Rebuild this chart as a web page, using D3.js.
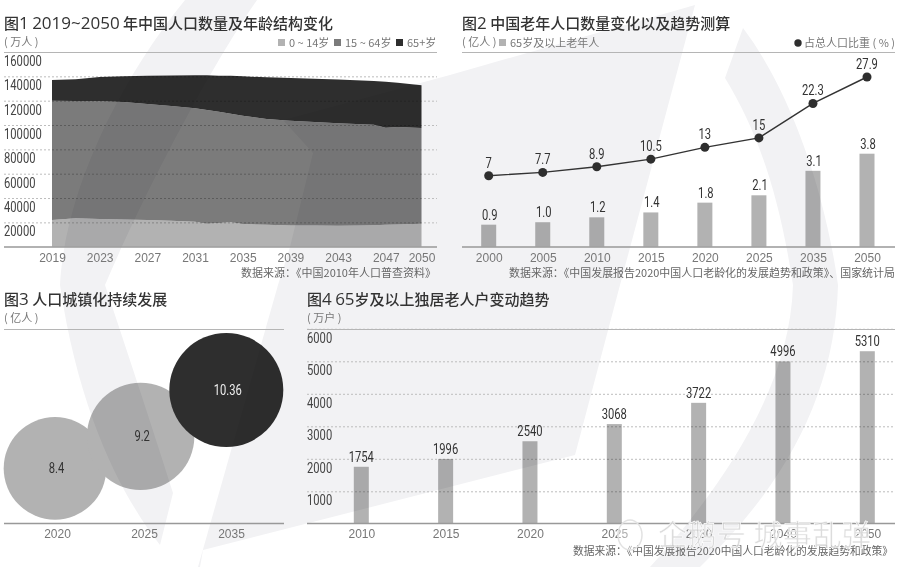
<!DOCTYPE html>
<html>
<head>
<meta charset="utf-8">
<script src="https://cdn.jsdelivr.net/npm/d3@7"></script>
<style>
html, body { margin: 0; padding: 0; background: #fff; }
svg { display: block; }
text { font-family: "Noto Sans CJK SC", "Noto Sans", sans-serif; }
.title { font-size: 15px; font-weight: 500; fill: #333; }
.title tspan { font-family: "Open Sans", sans-serif; font-size: 17px; }
.note { font-size: 11px; fill: #777; }
.source { font-size: 11px; fill: #666; }
.num { font-family: Roboto, sans-serif; font-size: 14px; fill: #333; }
.tick text { font-family: "Liberation Sans", sans-serif; font-size: 12px; fill: #777; }
.yaxis .tick text { font-family: Roboto, sans-serif; font-size: 14px; fill: #444; }
.mark { mix-blend-mode: multiply; }
</style>
</head>
<body>
<script>
// Fig 1 - population by age group
var popYears = [2019, 2021, 2023, 2025, 2027, 2029, 2031, 2032, 2033, 2034, 2035, 2037, 2039, 2041, 2043, 2045, 2046, 2047, 2048, 2050];
var pop0to14 = [21900, 23300, 22700, 22300, 21900, 21300, 20500, 18900, 19500, 20000, 18600, 18000, 17500, 17400, 17300, 17500, 17700, 18000, 18200, 18900];
var pop15to64 = [98100, 96400, 96750, 96600, 95400, 94300, 93200, 93400, 91500, 89300, 89100, 86900, 86100, 85100, 84100, 83050, 82600, 79800, 80200, 78600];
var pop65plus = [17000, 17900, 20000, 21100, 23200, 25100, 27100, 28500, 29500, 31100, 32300, 34300, 35100, 35500, 35900, 35950, 35900, 37800, 36300, 35100];
var popTicks = [2019, 2023, 2027, 2031, 2035, 2039, 2043, 2047, 2050];
var popYTicks = [20000, 40000, 60000, 80000, 100000, 120000, 140000, 160000];

// Fig 2 - elderly population and share
var elderYears = ["2000", "2005", "2010", "2015", "2020", "2025", "2035", "2050"];
var elderCount = [0.9, 1.0, 1.2, 1.4, 1.8, 2.1, 3.1, 3.8];
var elderCountLabels = ["0.9", "1.0", "1.2", "1.4", "1.8", "2.1", "3.1", "3.8"];
var elderShare = [7, 7.7, 8.9, 10.5, 13, 15, 22.3, 27.9];

// Fig 3 - urban population
var urbanYears = ["2020", "2025", "2035"];
var urbanPop = [8.4, 9.2, 10.36];

// Fig 4 - elderly living alone
var aloneYears = ["2010", "2015", "2020", "2025", "2030", "2040", "2050"];
var aloneHouseholds = [1754, 1996, 2540, 3068, 3722, 4996, 5310];
var aloneYTicks = [1000, 2000, 3000, 4000, 5000, 6000];

var svgWidth = 899;
var svgHeight = 567;
var ruleColor = "#b5b5b5";
var baseColor = "#999";
var gridColor = "#bdbdbd";
var lightGrey = "#b2b2b2";
var midGrey = "#7b7b7b";
var darkGrey = "#2e2e2e";

var svg = d3.select("body").append("svg")
  .attr("width", svgWidth)
  .attr("height", svgHeight);

// pale swooshes behind the charts
var swooshes = [
  "M185,0 L257,0 C215,60 150,180 105,285 C125,345 150,420 173,493 L160,545 C125,500 80,420 60,285 C65,190 120,80 185,0 Z",
  "M695,5 L620,285 L575,455 L203,550 L200,567 L198,567 L278,285 L290,247 L313,153 L283,120 L450,75 Z",
  "M743,28 C790,90 825,190 838,285 C835,390 790,480 700,567 L650,567 C720,490 790,390 793,285 C780,200 760,135 725,78 Z"
];
svg.selectAll("path.swoosh")
  .data(swooshes)
  .enter().append("path")
  .attr("class", "swoosh")
  .attr("d", d => d)
  .attr("fill", "#f2f2f4");

// the digits in the original are a narrow face, squeeze them to match
function squeeze(sel) {
  sel.each(function() {
    this.setAttribute("textLength", this.getComputedTextLength() * 0.8);
    this.setAttribute("lengthAdjust", "spacingAndGlyphs");
  });
}

function header(x, y, title, unit) {
  var t = svg.append("text").attr("class", "title").attr("x", x).attr("y", y);
  title.split(/([0-9~]+)/).forEach(function(part, i) {
    if (i % 2) t.append("tspan").text(part);
    else t.append("tspan").style("font-family", "'Noto Sans CJK SC'").style("font-size", "15px").text(part);
  });
  svg.append("text").attr("class", "note").attr("x", x).attr("y", y + 17).text(unit);
}

function source(x, width, y, label) {
  svg.append("text").attr("class", "source").attr("x", x).attr("y", y)
    .attr("textLength", width).attr("lengthAdjust", "spacingAndGlyphs")
    .text(label);
}

function rule(x1, x2, y, color, width) {
  svg.append("line")
    .attr("x1", x1).attr("x2", x2).attr("y1", y).attr("y2", y)
    .attr("stroke", color).attr("stroke-width", width);
}

function bottomTicks(scale, values, y, format) {
  var axis = d3.axisBottom(scale).tickValues(values).tickSize(0).tickPadding(6);
  if (format) axis.tickFormat(format);
  svg.append("g")
    .attr("transform", `translate(0, ${y})`)
    .call(axis)
    .call(g => g.select(".domain").remove());
}

// y axis with dashed gridlines, tick labels sit under their line at the left end
function yGrid(scale, values, x1, x2) {
  svg.append("g")
    .attr("class", "yaxis")
    .attr("transform", `translate(${x1}, 0)`)
    .call(d3.axisRight(scale).tickValues(values).tickSize(x2 - x1).tickFormat(d3.format("d")))
    .call(g => g.select(".domain").remove())
    .call(g => g.selectAll(".tick line").attr("stroke", gridColor).attr("stroke-dasharray", "2,2"))
    .call(g => g.selectAll(".tick text").attr("x", 0).attr("dy", 13.5).attr("text-anchor", "start").call(squeeze));
}

// ---------- Fig 1 ----------
header(4, 29, "图1 2019~2050 年中国人口数量及年龄结构变化", "( 万人 )");
var x1 = d3.scaleLinear().domain([2019, 2050]).range([52, 421.5]);
var y1 = d3.scaleLinear().domain([0, 160000]).range([246.7, 52]);
yGrid(y1, popYTicks, 4, 437);
rule(4, 437, 52.5, ruleColor, 1);

var stackRows = popYears.map((year, i) => ({ year: year, a: pop0to14[i], b: pop15to64[i], c: pop65plus[i] }));
var stackSeries = d3.stack().keys(["a", "b", "c"])(stackRows);
var area1 = d3.area()
  .x(d => x1(d.data.year))
  .y0(d => y1(d[0]))
  .y1(d => y1(d[1]));
svg.append("g").attr("class", "mark")
  .selectAll("path")
  .data(stackSeries)
  .enter().append("path")
  .attr("d", area1)
  .attr("fill", (d, i) => [lightGrey, midGrey, darkGrey][i]);
rule(4, 437, 247, baseColor, 1.5);
bottomTicks(x1, popTicks, 247, d3.format("d"));

var legend1 = [
  { label: "0 ~ 14岁", x: 278, color: lightGrey },
  { label: "15 ~ 64岁", x: 334, color: midGrey },
  { label: "65+岁", x: 396, color: darkGrey }
];
legend1.forEach(function(d) {
  svg.append("rect").attr("x", d.x).attr("y", 39).attr("width", 7).attr("height", 7).attr("fill", d.color);
  svg.append("text").attr("class", "note").attr("x", d.x + 11).attr("y", 46.5).text(d.label);
});
source(241, 195, 277, "数据来源：《中国2010年人口普查资料》");

// ---------- Fig 2 ----------
header(462, 29, "图2 中国老年人口数量变化以及趋势测算", "( 亿人 )");
var x2 = d3.scalePoint().domain(elderYears).range([488.7, 867]);
var yBar2 = d3.scaleLinear().domain([0, 3.8]).range([246.7, 153.7]);
var yLine2 = d3.scaleLinear().domain([7, 27.9]).range([175.7, 77]);
rule(462, 895, 52.5, ruleColor, 1);

svg.append("g").attr("class", "mark")
  .selectAll("rect")
  .data(elderCount)
  .enter().append("rect")
  .attr("x", (d, i) => x2(elderYears[i]) - 7.5)
  .attr("y", d => yBar2(d))
  .attr("width", 15)
  .attr("height", d => yBar2(0) - yBar2(d))
  .attr("fill", lightGrey);
svg.selectAll("text.barval")
  .data(elderCount)
  .enter().append("text")
  .attr("class", "num barval")
  .attr("x", (d, i) => x2(elderYears[i]) + 1)
  .attr("y", d => yBar2(d) - 5)
  .attr("text-anchor", "middle")
  .text((d, i) => elderCountLabels[i])
  .call(squeeze);

var line2 = d3.line()
  .x((d, i) => x2(elderYears[i]))
  .y(d => yLine2(d));
svg.append("path")
  .datum(elderShare)
  .attr("d", line2)
  .attr("fill", "none")
  .attr("stroke", "#333")
  .attr("stroke-width", 1.4);
svg.selectAll("circle.share")
  .data(elderShare)
  .enter().append("circle")
  .attr("class", "share")
  .attr("cx", (d, i) => x2(elderYears[i]))
  .attr("cy", d => yLine2(d))
  .attr("r", 4.5)
  .attr("fill", darkGrey);
svg.selectAll("text.shareval")
  .data(elderShare)
  .enter().append("text")
  .attr("class", "num shareval")
  .attr("x", (d, i) => x2(elderYears[i]))
  .attr("y", d => yLine2(d) - 8)
  .attr("text-anchor", "middle")
  .text(d => d)
  .call(squeeze);
rule(462, 895, 247, baseColor, 1.5);
bottomTicks(x2, elderYears, 247);

svg.append("rect").attr("x", 499).attr("y", 39).attr("width", 7).attr("height", 7).attr("fill", lightGrey);
svg.append("text").attr("class", "note").attr("x", 510).attr("y", 46.5).text("65岁及以上老年人");
svg.append("circle").attr("cx", 798).attr("cy", 43).attr("r", 3.7).attr("fill", darkGrey);
svg.append("text").attr("class", "note").attr("x", 895).attr("y", 46.5).attr("text-anchor", "end").text("占总人口比重 ( % )");
source(509, 386, 277, "数据来源：《中国发展报告2020中国人口老龄化的发展趋势和政策》、国家统计局");

// ---------- Fig 3 ----------
header(4, 305, "图3 人口城镇化持续发展", "( 亿人 )");
var x3 = d3.scalePoint().domain(urbanYears).range([57, 231]);
var xCircle3 = d3.scalePoint().domain(urbanYears).range([55, 226.3]);
var y3 = d3.scaleLinear().domain([8.4, 10.36]).range([468.3, 390]);
var r3 = d3.scaleSqrt().domain([0, 10.36]).range([0, 57]);
rule(4, 284, 329.5, ruleColor, 1);

svg.append("g").attr("class", "mark")
  .selectAll("circle")
  .data(urbanPop)
  .enter().append("circle")
  .attr("cx", (d, i) => xCircle3(urbanYears[i]))
  .attr("cy", d => y3(d))
  .attr("r", d => r3(d))
  .attr("fill", (d, i) => i == 2 ? darkGrey : lightGrey);
svg.selectAll("text.urbanval")
  .data(urbanPop)
  .enter().append("text")
  .attr("class", "num urbanval")
  .attr("x", (d, i) => xCircle3(urbanYears[i]) + 1.5)
  .attr("y", d => y3(d) + 5)
  .attr("text-anchor", "middle")
  .style("fill", (d, i) => i == 2 ? "#eee" : "#333")
  .text(d => d)
  .call(squeeze);
rule(4, 284, 523.5, baseColor, 1.5);
bottomTicks(x3, urbanYears, 523.5);

// ---------- Fig 4 ----------
header(307, 305, "图4 65岁及以上独居老人户变动趋势", "( 万户 )");
var x4 = d3.scalePoint().domain(aloneYears).range([361.3, 867.3]);
var y4 = d3.scaleLinear().domain([0, 6000]).range([523.8, 328.8]);
yGrid(y4, aloneYTicks, 307, 895);
rule(307, 895, 329.5, ruleColor, 1);

svg.append("g").attr("class", "mark")
  .selectAll("rect")
  .data(aloneHouseholds)
  .enter().append("rect")
  .attr("x", (d, i) => x4(aloneYears[i]) - 7.5)
  .attr("y", d => y4(d))
  .attr("width", 15)
  .attr("height", d => y4(0) - y4(d))
  .attr("fill", lightGrey);
svg.selectAll("text.aloneval")
  .data(aloneHouseholds)
  .enter().append("text")
  .attr("class", "num aloneval")
  .attr("x", (d, i) => x4(aloneYears[i]))
  .attr("y", d => y4(d) - 5)
  .attr("text-anchor", "middle")
  .text(d => d)
  .call(squeeze);
rule(307, 895, 523.5, baseColor, 1.5);
bottomTicks(x4, aloneYears, 523.5);
source(573, 320, 555, "数据来源：《中国发展报告2020中国人口老龄化的发展趋势和政策》");

// watermark over the bottom right corner
svg.append("ellipse")
  .attr("cx", 630).attr("cy", 535).attr("rx", 12).attr("ry", 15)
  .attr("fill", "#fff").attr("fill-opacity", 0.4)
  .attr("stroke", "#e2e2e2").attr("stroke-width", 1.5);
svg.append("text")
  .attr("x", 658).attr("y", 546)
  .style("font-size", "29px")
  .style("letter-spacing", "0.5px")
  .attr("fill", "#d6d6d6").attr("fill-opacity", 0.85)
  .attr("stroke", "#fff").attr("stroke-width", 0.6)
  .text("企鹅号 城事乱弹");
</script>
</body>
</html>
